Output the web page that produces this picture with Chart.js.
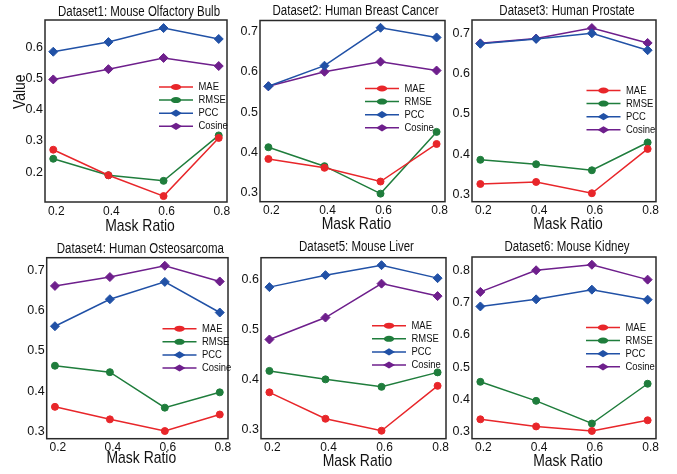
<!DOCTYPE html>
<html>
<head>
<meta charset="utf-8">
<script src="https://cdn.jsdelivr.net/npm/chart.js@4.4.1/dist/chart.umd.min.js"></script>
<style>
  html, body { margin: 0; padding: 0; background: #fff; }
  #wrap { position: relative; width: 677px; height: 474px; overflow: hidden; }
  #wrap canvas { position: absolute; }
</style>
</head>
<body>
<div id="wrap"></div>
<script>
// Données
const maskRatios = [0.2, 0.4, 0.6, 0.8];
const seriesNames = ["MAE", "RMSE", "PCC", "Cosine"];
const panelTitles = [
  "Dataset1: Mouse Olfactory Bulb",
  "Dataset2: Human Breast Cancer",
  "Dataset3: Human Prostate",
  "Dataset4: Human Osteosarcoma",
  "Dataset5: Mouse Liver",
  "Dataset6: Mouse Kidney",
];
const maeValues = [
  [0.272, 0.19, 0.123, 0.31],
  [0.384, 0.362, 0.328, 0.421],
  [0.326, 0.331, 0.303, 0.413],
  [0.361, 0.33, 0.301, 0.342],
  [0.374, 0.321, 0.297, 0.387],
  [0.339, 0.317, 0.303, 0.336],
];
const rmseValues = [
  [0.243, 0.19, 0.172, 0.318],
  [0.413, 0.366, 0.298, 0.451],
  [0.386, 0.375, 0.36, 0.429],
  [0.463, 0.447, 0.359, 0.397],
  [0.417, 0.4, 0.385, 0.414],
  [0.455, 0.396, 0.326, 0.449],
];
const pccValues = [
  [0.587, 0.618, 0.663, 0.628],
  [0.564, 0.615, 0.709, 0.685],
  [0.674, 0.686, 0.7, 0.658],
  [0.561, 0.628, 0.671, 0.595],
  [0.585, 0.609, 0.629, 0.603],
  [0.688, 0.71, 0.74, 0.709],
];
const cosineValues = [
  [0.498, 0.531, 0.567, 0.541],
  [0.564, 0.6, 0.625, 0.603],
  [0.675, 0.687, 0.713, 0.676],
  [0.661, 0.683, 0.711, 0.672],
  [0.48, 0.524, 0.592, 0.567],
  [0.733, 0.8, 0.817, 0.771],
];
const yTickValues = [
  [0.2, 0.3, 0.4, 0.5, 0.6],
  [0.3, 0.4, 0.5, 0.6, 0.7],
  [0.3, 0.4, 0.5, 0.6, 0.7],
  [0.3, 0.4, 0.5, 0.6, 0.7],
  [0.3, 0.4, 0.5, 0.6],
  [0.3, 0.4, 0.5, 0.6, 0.7, 0.8],
];
const yRanges = [
  [0.104, 0.689],
  [0.278, 0.727],
  [0.282, 0.733],
  [0.282, 0.731],
  [0.281, 0.644],
  [0.279, 0.841],
];
const xRange = [0.17, 0.83];

// Mise en page (pixels)
const frames = [
  [45, 20, 227, 202],
  [260, 20.5, 445, 201.7],
  [472, 20, 656, 201.7],
  [46.7, 257.7, 228, 438.7],
  [261, 257.7, 446, 438.7],
  [472, 257, 656, 438.7],
];
const canvasBoxes = [
  [0, 0, 242, 237],
  [226, 0, 236, 237],
  [447, 0, 230, 237],
  [0, 237, 242, 237],
  [226, 237, 236, 237],
  [447, 237, 230, 237],
];
const legendRight = [68, 80, 69.5, 65.5, 74, 70];
const legendTop = [67, 68, 70.5, 71, 68, 70.5];
const titleY = [12, 11, 11, 11.7, 10.5, 10.5];
const xTitleY = [226, 224, 224, 221.7, 224, 224];
const valueLabelPos = [[20, 91.7], null, null, [23.3, 95], null, null];

const seriesValues = [maeValues, rmseValues, pccValues, cosineValues];
const seriesColors = ["#e8262a", "#1f7d3c", "#2151a6", "#6e1f8c"];
const seriesMarkers = ["circle", "circle", "rectRot", "rectRot"];
const FONT = "'Liberation Sans', Arial, sans-serif";
const NARROW = 0.82;
const INK = "#111";

// Texte étroit (la figure d'origine est compressée en largeur)
function narrowText(ctx, text, x, y, size, align, rotate) {
  ctx.save();
  ctx.translate(x, y);
  if (rotate) ctx.rotate(-Math.PI / 2);
  ctx.scale(NARROW, 1);
  ctx.font = size + "px " + FONT;
  ctx.fillStyle = INK;
  ctx.textAlign = align;
  ctx.textBaseline = "middle";
  ctx.fillText(text, 0, 0);
  ctx.restore();
}

// Cadre autour de la zone du graphique
const framePlugin = {
  id: "frame",
  afterDatasetsDraw(chart) {
    const { ctx, chartArea: a } = chart;
    ctx.save();
    ctx.strokeStyle = "#2a2a2a";
    ctx.lineWidth = 1.5;
    ctx.strokeRect(a.left, a.top, a.right - a.left, a.bottom - a.top);
    ctx.restore();
  },
};

// Légende dans la zone du graphique
const miniLegend = {
  id: "miniLegend",
  afterDraw(chart, args, opts) {
    const { ctx, chartArea: a } = chart;
    const x0 = a.right - opts.right;
    chart.data.datasets.forEach((ds, i) => {
      const y = a.top + opts.top + i * 13.1;
      ctx.save();
      ctx.strokeStyle = ds.borderColor;
      ctx.fillStyle = ds.borderColor;
      ctx.lineWidth = 1.5;
      ctx.beginPath();
      ctx.moveTo(x0, y);
      ctx.lineTo(x0 + 34, y);
      ctx.stroke();
      const cx = x0 + 17;
      ctx.beginPath();
      if (ds.pointStyle === "circle") {
        ctx.ellipse(cx, y, 5.2, 3, 0, 0, Math.PI * 2);
      } else {
        ctx.moveTo(cx - 6, y);
        ctx.lineTo(cx, y - 3.6);
        ctx.lineTo(cx + 6, y);
        ctx.lineTo(cx, y + 3.6);
        ctx.closePath();
      }
      ctx.fill();
      ctx.restore();
      narrowText(ctx, ds.label, x0 + 39.5, y, 11.5, "left", false);
    });
  },
};

// Titres : panneau, axe X, axe Y
const panelText = {
  id: "panelText",
  afterDraw(chart, args, opts) {
    const { ctx, chartArea: a } = chart;
    const cx = (a.left + a.right) / 2;
    narrowText(ctx, opts.title, cx + 3, opts.titleY, 14, "center", false);
    narrowText(ctx, "Mask Ratio", cx + 4, opts.xTitleY, 17, "center", false);
    if (opts.valuePos) {
      narrowText(ctx, "Value", opts.valuePos[0], opts.valuePos[1], 17, "center", true);
    }
  },
};

const wrap = document.getElementById("wrap");

panelTitles.forEach((title, i) => {
  const [cl, ct, cw, ch] = canvasBoxes[i];
  const [fl, ft, fr, fb] = frames[i];
  const canvas = document.createElement("canvas");
  canvas.width = cw;
  canvas.height = ch;
  canvas.style.left = cl + "px";
  canvas.style.top = ct + "px";
  wrap.appendChild(canvas);

  const yAxisW = fl - cl;
  const xAxisH = ct + ch - fb;
  const valuePos = valueLabelPos[i]
    ? [valueLabelPos[i][0] - cl, valueLabelPos[i][1] - ct]
    : null;

  new Chart(canvas, {
    type: "line",
    data: {
      datasets: seriesNames.map((name, s) => ({
        label: name,
        data: maskRatios.map((x, k) => ({ x: x, y: seriesValues[s][i][k] })),
        borderColor: seriesColors[s],
        backgroundColor: seriesColors[s],
        pointStyle: seriesMarkers[s],
        pointRadius: s < 2 ? 3.5 : 4.5,
        pointBorderWidth: 1,
        borderWidth: 1.5,
        tension: 0,
      })),
    },
    options: {
      responsive: false,
      animation: false,
      layout: {
        autoPadding: false,
        padding: { left: 0, top: ft - ct, bottom: 0, right: cl + cw - fr },
      },
      plugins: {
        legend: { display: false },
        tooltip: { enabled: false },
        title: { display: false },
        miniLegend: { right: legendRight[i], top: legendTop[i] },
        panelText: {
          title: title,
          titleY: titleY[i],
          xTitleY: xTitleY[i],
          valuePos: valuePos,
        },
      },
      scales: {
        x: {
          type: "linear",
          min: xRange[0],
          max: xRange[1],
          grid: { display: false, drawTicks: false },
          border: { display: false },
          afterBuildTicks: (scale) => {
            scale.ticks = maskRatios.map((v) => ({ value: v }));
          },
          afterFit: (scale) => {
            scale.height = xAxisH;
          },
          ticks: {
            color: INK,
            padding: 2,
            labelOffset: 3,
            maxRotation: 0,
            font: { family: FONT, size: 12 },
            callback: (v) => Number(v).toFixed(1),
          },
        },
        y: {
          min: yRanges[i][0],
          max: yRanges[i][1],
          grid: { display: false, drawTicks: false },
          border: { display: false },
          afterBuildTicks: (scale) => {
            scale.ticks = yTickValues[i].map((v) => ({ value: v }));
          },
          afterFit: (scale) => {
            scale.width = yAxisW;
          },
          ticks: {
            color: INK,
            padding: 2,
            font: { family: FONT, size: 12.5 },
            callback: (v) => Number(v).toFixed(1),
          },
        },
      },
    },
    plugins: [framePlugin, miniLegend, panelText],
  });
});
</script>
</body>
</html>
